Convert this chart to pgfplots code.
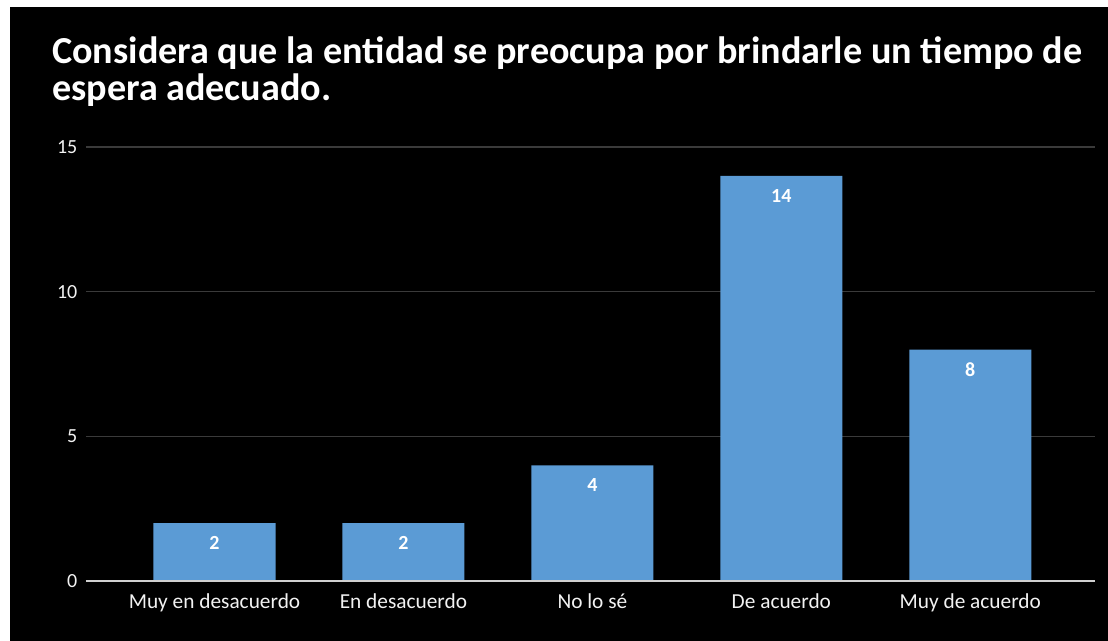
\documentclass[border=0pt]{standalone}
\usepackage{pgfplots}
\pgfplotsset{compat=1.18}
\usepackage{fontspec}
\setmainfont{Carlito}
\definecolor{barblue}{HTML}{5B9BD5}
\definecolor{gridgray}{HTML}{3A3A3A}
\definecolor{axisgray}{HTML}{D0D0D0}
\definecolor{txt}{HTML}{F2F2F2}
\begin{document}
\begin{tikzpicture}
\fill[white] (0pt,0pt) rectangle (831pt,480.75pt);
\fill[black] (7.5pt,0pt) rectangle (831pt,475.5pt);
\node[anchor=base west,text=white,font=\fontsize{28.6}{32}\selectfont\bfseries,inner sep=0] at (39pt,432.75pt) {Considera que la entidad se preocupa por brindarle un tiempo de};
\node[anchor=base west,text=white,font=\fontsize{28.6}{32}\selectfont\bfseries,inner sep=0] at (39pt,405pt) {espera adecuado.};
\begin{axis}[
  at={(64.5pt,45pt)}, anchor=south west,
  scale only axis,
  width=756.75pt, height=325.5pt,
  xmin=-0.68, xmax=4.66,
  ymin=0, ymax=15,
  ytick={0,5,10,15},
  xtick={0,1,2,3,4},
  xticklabels={Muy en desacuerdo,En desacuerdo,No lo sé,De acuerdo,Muy de acuerdo},
  axis line style={draw=none},
  major tick length=0pt,
  ymajorgrids,
  grid style={gridgray,line width=0.9pt},
  ticklabel style={text=txt},
  xticklabel style={font=\fontsize{16}{18}\selectfont, yshift=-6pt},
  yticklabel style={font=\fontsize{15}{17}\selectfont, xshift=-3pt},
  /pgf/number format/assume math mode=true,
  clip=false,
]
\addplot[ybar, bar width=0.646, fill=barblue, draw=none,
  nodes near coords,
  nodes near coords style={anchor=center, yshift=-15pt, text=white, font=\fontsize{15}{17}\selectfont\bfseries}]
  coordinates {(0,2) (1,2) (2,4) (3,14) (4,8)};
\draw[axisgray,line width=1.5pt] (axis cs:-0.68,0) -- (axis cs:4.66,0);
\end{axis}
\end{tikzpicture}
\end{document}
